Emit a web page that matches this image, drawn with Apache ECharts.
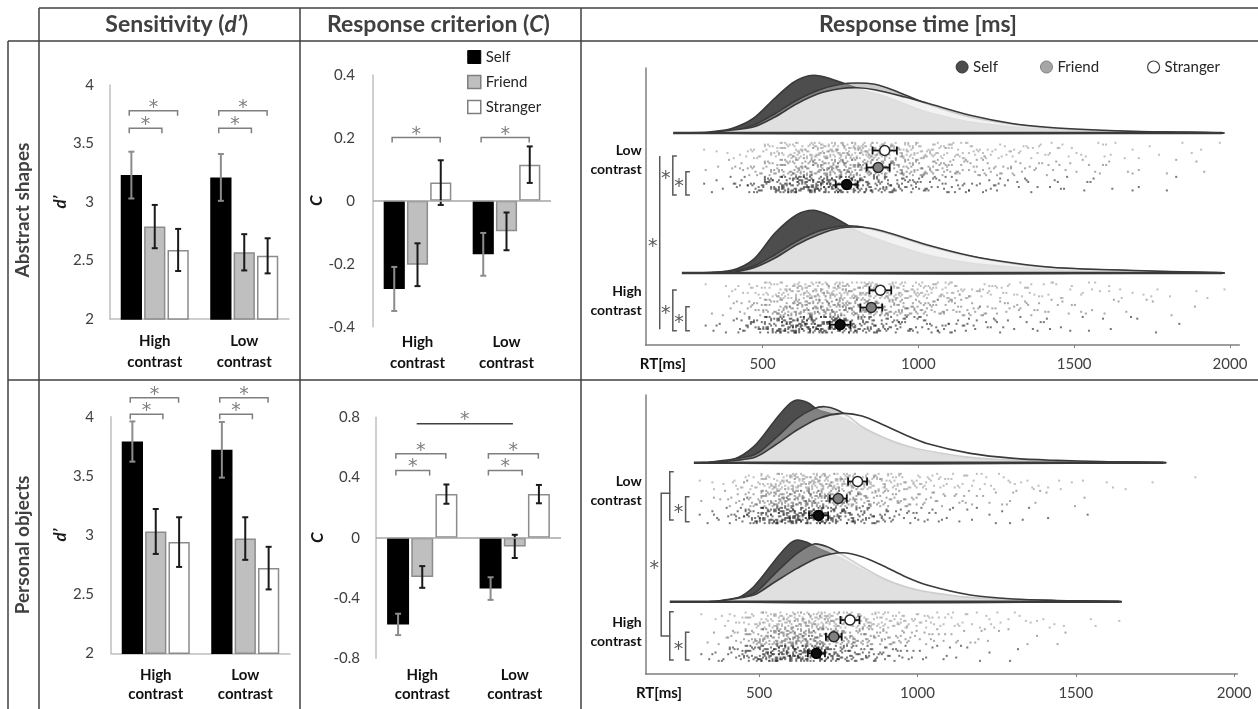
<!DOCTYPE html>
<html><head><meta charset="utf-8">
<script src="https://cdn.jsdelivr.net/npm/echarts@6/dist/echarts.min.js"></script>
<style>html,body{margin:0;padding:0;background:#fff}#c{width:1258px;height:709px}</style>
</head><body><div id="c"></div><script>
const FONT = 'Lato, "Open Sans", sans-serif';
const contrastCats = ['High\ncontrast', 'Low\ncontrast'];
const rtTicks = [500, 1000, 1500, 2000];
const rtRowLabels = ['Low\ncontrast', 'High\ncontrast'];

// Sensitivity d' (High, Low)
const dAbsSelf = [3.23, 3.21], dAbsSelfErr = [0.20, 0.20];
const dAbsFriend = [2.79, 2.57], dAbsFriendErr = [0.185, 0.155];
const dAbsStranger = [2.59, 2.54], dAbsStrangerErr = [0.18, 0.15];
const dObjSelf = [3.79, 3.72], dObjSelfErr = [0.17, 0.235];
const dObjFriend = [3.03, 2.97], dObjFriendErr = [0.19, 0.18];
const dObjStranger = [2.94, 2.72], dObjStrangerErr = [0.21, 0.18];
// Response criterion C (High, Low)
const cAbsSelf = [-0.28, -0.17], cAbsSelfErr = [0.07, 0.068];
const cAbsFriend = [-0.203, -0.097], cAbsFriendErr = [0.068, 0.06];
const cAbsStranger = [0.058, 0.115], cAbsStrangerErr = [0.071, 0.058];
const cObjSelf = [-0.575, -0.337], cObjSelfErr = [0.071, 0.075];
const cObjFriend = [-0.26, -0.057], cObjFriendErr = [0.072, 0.077];
const cObjStranger = [0.29, 0.29], cObjStrangerErr = [0.064, 0.061];
// significance brackets: [category, value, target(0 friend,1 stranger)]
const sigDAbs = [[0, 3.63, 0], [0, 3.78, 1], [1, 3.63, 0], [1, 3.78, 1]];
const sigCAbs = [[0, 0.201, 1], [1, 0.201, 1]];
const sigDObj = [[0, 4.02, 0], [0, 4.16, 1], [1, 4.02, 0], [1, 4.16, 1]];
const sigCObj = [[0, 0.447, 0], [0, 0.558, 1], [1, 0.447, 0], [1, 0.558, 1]];
const sigCObjContrast = [[0, 1, 0.757]];

// RT densities [rt, height]
const densAbsLowSelf = [[262,0],[331,0.1],[401,0.45],[470,1.45],[540,3.5],[596,5.0],[630,5.55],[665,5.77],[700,5.6],[735,5.25],[776,4.8],[818,4.3],[888,3.7],[957,2.9],[1027,2.1],[1097,1.55],[1166,1.1],[1305,0.6],[1445,0.3],[1584,0.15],[1723,0.07],[1973,0]];
const densAbsLowFriend = [[303,0],[401,0.2],[470,0.77],[540,1.93],[610,3.27],[679,4.27],[749,4.87],[804,5.0],[860,4.87],[916,4.33],[1027,2.93],[1166,1.6],[1305,0.87],[1445,0.43],[1653,0.17],[1862,0.07],[1973,0]];
const densAbsLowStranger = [[331,0],[470,0.6],[540,1.6],[610,2.93],[679,3.93],[749,4.43],[804,4.53],[860,4.33],[957,3.6],[1027,3.0],[1166,1.77],[1305,0.93],[1445,0.5],[1653,0.2],[1862,0.07],[1973,0]];
const densAbsHighSelf = [[303,0],[401,0.27],[470,1.33],[540,4.0],[610,5.83],[665,6.27],[721,5.67],[776,4.73],[818,4.0],[888,3.17],[1027,1.83],[1166,1.0],[1305,0.6],[1445,0.3],[1584,0.15],[1793,0.05],[1973,0]];
const densAbsHighFriend = [[331,0],[401,0.17],[470,0.67],[540,1.83],[610,3.17],[679,4.17],[749,4.67],[804,4.67],[888,4.07],[957,3.4],[1027,2.73],[1166,1.67],[1305,0.93],[1445,0.5],[1723,0.2],[1973,0]];
const densAbsHighStranger = [[408,0],[470,0.5],[540,1.5],[610,2.83],[679,3.83],[749,4.5],[818,4.57],[888,4.17],[1027,2.83],[1166,1.73],[1305,1.0],[1445,0.53],[1723,0.23],[1973,0]];
const densObjLowSelf = [[318,0],[414,0.27],[483,1.6],[551,4.27],[592,5.77],[620,6.27],[654,6.0],[688,5.27],[756,4.6],[825,3.4],[893,2.4],[962,1.6],[1030,1.0],[1167,0.45],[1304,0.2],[1441,0.1],[1646,0.04],[1776,0]];
const densObjLowFriend = [[346,0],[483,0.77],[551,2.43],[620,4.43],[674,5.43],[708,5.6],[743,5.33],[784,4.6],[825,3.6],[893,2.53],[962,1.73],[1030,1.2],[1167,0.53],[1304,0.25],[1441,0.12],[1776,0]];
const densObjLowStranger = [[346,0],[483,0.5],[551,1.77],[620,3.27],[688,4.43],[763,4.93],[825,4.67],[893,3.77],[962,2.77],[1030,1.93],[1167,0.93],[1304,0.43],[1441,0.23],[1578,0.12],[1776,0]];
const densObjHighSelf = [[346,0],[428,0.33],[483,1.5],[551,4.17],[592,5.67],[620,6.17],[654,5.9],[688,5.33],[756,4.4],[825,3.2],[893,2.2],[962,1.45],[1030,0.9],[1167,0.4],[1304,0.18],[1441,0.08],[1637,0]];
const densObjHighFriend = [[373,0],[483,0.83],[551,2.83],[620,4.83],[674,5.77],[715,5.5],[756,4.83],[825,3.5],[893,2.33],[962,1.5],[1030,1.0],[1167,0.43],[1304,0.2],[1441,0.1],[1637,0]];
const densObjHighStranger = [[373,0],[483,0.67],[551,2.0],[620,3.33],[688,4.43],[763,4.9],[825,4.5],[893,3.57],[962,2.5],[1030,1.67],[1167,0.67],[1304,0.27],[1441,0.12],[1637,0]];
const baseAbsLow = [213, 1975], baseAbsHigh = [241, 1975], baseObjLow = [294, 1776], baseObjHigh = [218, 1637];

// RT means (Self, Friend, Stranger)
const rtAbsLowMean = [770, 871, 892], rtAbsLowErr = [35, 37, 39];
const rtAbsHighMean = [749, 849, 878], rtAbsHighErr = [33, 35, 35];
const rtObjLowMean = [688, 750, 811], rtObjLowErr = [30, 27, 30];
const rtObjHighMean = [681, 736, 787], rtObjHighErr = [27, 25, 30];

// single-trial dot counts per 50 ms bin, bins starting at 250 ms
const dotBinStart = 250, dotBinWidth = 50;
const dotsAbsLowSelf     = [0,2,3,6,14,24,36,42,45,42,36,30,24,20,15,12,10,8,6,6,5,4,3,3,3,2,2,1,1,1,1,1,0,0,0];
const dotsAbsLowFriend   = [0,1,2,5,9,15,22,28,33,36,36,34,31,27,22,18,15,12,10,9,7,6,5,4,3,3,3,2,2,1,1,1,1,1,0];
const dotsAbsLowStranger = [0,1,2,3,8,13,21,27,31,34,36,36,33,28,24,20,16,13,10,9,7,6,6,5,4,3,3,3,2,2,1,1,1,1,1];
const dotsAbsHighSelf     = [0,2,3,8,16,28,40,45,45,40,33,27,21,16,13,10,9,7,6,5,4,3,3,3,2,2,1,1,1,1,1,1,0,0,0];
const dotsAbsHighFriend   = [0,1,2,5,10,18,25,31,34,36,34,31,28,24,20,16,13,12,9,7,6,6,5,4,3,3,2,2,1,1,1,1,1,0,0];
const dotsAbsHighStranger = [0,1,2,4,9,15,22,28,33,34,34,33,30,27,22,19,16,13,10,9,7,6,6,5,4,3,3,3,2,2,1,1,1,1,1];
const dotsObjLowSelf     = [0,2,5,10,22,37,48,50,45,37,28,21,15,10,7,6,4,3,3,2,2,1,1,1,0,1,0,0,0,0,0,0,0,0,0];
const dotsObjLowFriend   = [0,1,3,7,16,28,39,43,43,39,31,24,18,13,10,7,6,5,4,3,3,2,2,1,1,1,0,0,0,0,0,0,0,0,0];
const dotsObjLowStranger = [0,1,3,6,12,21,30,36,39,39,36,30,24,19,15,12,9,7,6,5,4,3,3,2,2,1,1,1,1,1,0,0,1,0,0];
const dotsObjHighSelf     = [0,2,5,12,24,39,48,48,42,34,25,18,13,9,6,4,3,3,2,1,1,1,0,0,0,0,0,0,0,0,0,0,0,0,0];
const dotsObjHighFriend   = [0,1,3,7,18,30,40,45,42,36,28,21,16,12,9,6,5,4,3,3,2,1,1,1,1,0,0,0,0,0,0,0,0,0,0];
const dotsObjHighStranger = [0,1,3,6,13,22,31,37,39,37,33,27,21,16,13,10,7,6,5,4,3,3,3,2,1,1,1,1,0,0,0,0,0,0,0];
// within-bin horizontal and vertical jitter digits
const jitX = '27049318562071594836207491538620471958360271849513629';
const jitY = '51837290461582703941625083719462058317924650381729460531472';

// RT brackets: [rt, yTop, yBottom, star, tickType]
const rtSigAbs = [[170,18.9,1.57,1,0],[212,18.9,15.0,1,1],[254,17.33,15.0,1,1],[212,5.5,1.43,1,1],[254,3.83,1.43,1,1]];
const rtSigObj = [[191,18.07,3.8,1,2],[218,20.23,15.4,0,1],[268,17.73,15.23,1,1],[218,6.23,1.4,0,1],[268,4.17,1.4,1,1]];

// ---------------- layout / styles ----------------
const BCG = 0.24, BG = 0.10;
const condStyle = {
  Self: {bar: '#000000', barBorder: '#000000', err: '#8c8c8c', dot: 'rgba(40,40,40,0.8)', dens: '#4d4d4d', mean: '#0d0d0d', meanStroke: '#000'},
  Friend: {bar: '#bfbfbf', barBorder: '#8c8c8c', err: '#1a1a1a', dot: 'rgba(100,100,100,0.7)', dens: 'rgba(166,166,166,0.6)', mean: '#808080', meanStroke: '#262626'},
  Stranger: {bar: '#ffffff', barBorder: '#8c8c8c', err: '#1a1a1a', dot: 'rgba(140,140,140,0.7)', dens: 'rgba(255,255,255,0.75)', mean: '#ffffff', meanStroke: '#262626'}
};
const conds = ['Self', 'Friend', 'Stranger'];
const starStyle = {text: '*', fontSize: 19, fontFamily: 'DejaVu Sans, ' + FONT, fill: '#7f7f7f', align: 'center', verticalAlign: 'middle'};

function errRender(k, color) {
  return function (params, api) {
    const cat = api.value(0);
    const lo = api.coord([cat, api.value(1)]), hi = api.coord([cat, api.value(2)]);
    const band = api.size([1, 0])[0];
    const w = (1 - BCG) / (3 + 2 * BG) * band;
    const x = lo[0] + k * w * (1 + BG);
    const st = {stroke: color, lineWidth: 2};
    return {type: 'group', children: [
      {type: 'line', shape: {x1: x, y1: lo[1], x2: x, y2: hi[1]}, style: st},
      {type: 'line', shape: {x1: x - 3, y1: lo[1], x2: x + 3, y2: lo[1]}, style: st},
      {type: 'line', shape: {x1: x - 3, y1: hi[1], x2: x + 3, y2: hi[1]}, style: st}
    ]};
  };
}
function sigRender(params, api) {
  const cat = api.value(0), y = api.value(1), t = api.value(2);
  const c = api.coord([cat, y]);
  const band = api.size([1, 0])[0];
  const x0 = c[0] - 0.285 * band, x1 = c[0] + (t === 1 ? 0.255 : 0.08) * band;
  return {type: 'group', children: [
    {type: 'polyline', shape: {points: [[x0, c[1] + 5], [x0, c[1]], [x1, c[1]], [x1, c[1] + 5]]}, style: {stroke: '#7f7f7f', lineWidth: 1.5, fill: null}},
    {type: 'text', x: (x0 + x1) / 2, y: c[1] - 3, style: starStyle}
  ]};
}
function contrastLineRender(params, api) {
  const a = api.coord([api.value(0), api.value(2)]), b = api.coord([api.value(1), api.value(2)]);
  const band = api.size([1, 0])[0];
  const x0 = a[0] - 0.06 * band, x1 = b[0] - 0.02 * band;
  return {type: 'group', children: [
    {type: 'line', shape: {x1: x0, y1: a[1], x2: x1, y2: a[1]}, style: {stroke: '#404040', lineWidth: 1.5}},
    {type: 'text', x: (x0 + x1) / 2, y: a[1] - 4, style: starStyle}
  ]};
}
function densRender(points, base, fill) {
  return function (params, api) {
    const pts = points.map(p => api.coord([p[0], base + p[1]]));
    return {type: 'polygon', shape: {points: pts, smooth: 0.3}, style: {fill: fill, stroke: '#3a3a3a', lineWidth: 1.6}};
  };
}
function baseRender(range, base) {
  return function (params, api) {
    const a = api.coord([range[0], base]), b = api.coord([range[1], base]);
    return {type: 'line', shape: {x1: a[0], y1: a[1], x2: b[0], y2: b[1]}, style: {stroke: '#3a3a3a', lineWidth: 2.5}};
  };
}
function meanRender(params, api) {
  const rt = api.value(0), y = api.value(1), e = api.value(2), ci = api.value(3);
  const s = condStyle[conds[ci]];
  const c = api.coord([rt, y]), l = api.coord([rt - e, y]), r = api.coord([rt + e, y]);
  const st = {stroke: '#111', lineWidth: 1.8};
  return {type: 'group', children: [
    {type: 'line', shape: {x1: l[0], y1: c[1], x2: r[0], y2: c[1]}, style: st},
    {type: 'line', shape: {x1: l[0], y1: c[1] - 4, x2: l[0], y2: c[1] + 4}, style: st},
    {type: 'line', shape: {x1: r[0], y1: c[1] - 4, x2: r[0], y2: c[1] + 4}, style: st},
    {type: 'circle', shape: {cx: c[0], cy: c[1], r: 5}, style: {fill: s.mean, stroke: s.meanStroke, lineWidth: 1.5}}
  ]};
}
function rtSigRender(params, api) {
  const x = api.value(0), y1 = api.value(1), y2 = api.value(2), star = api.value(3), tk = api.value(4);
  const a = api.coord([x, y1]), b = api.coord([x, y2]);
  const L = tk === 2 ? 9 : (tk === 1 ? 4 : 0);
  const ch = [{type: 'polyline', shape: {points: [[a[0] + L, a[1]], [a[0], a[1]], [b[0], b[1]], [b[0] + L, b[1]]]}, style: {stroke: '#595959', lineWidth: 1.5, fill: null}}];
  if (star) ch.push({type: 'text', x: a[0] - 7, y: (a[1] + b[1]) / 2 + 4, style: Object.assign({}, starStyle, {fill: '#595959'})});
  return {type: 'group', children: ch};
}

const series = [];
function barPanel(g, vals, errs, sigs, withZero) {
  conds.forEach((c, k) => {
    const s = condStyle[c];
    const ser = {type: 'bar', name: c, xAxisIndex: g, yAxisIndex: g, data: vals[k], barGap: (BG * 100) + '%', barCategoryGap: (BCG * 100) + '%',
      itemStyle: {color: s.bar, borderColor: s.barBorder, borderWidth: 1.5}, silent: true, z: 2};
    if (withZero && k === 0) ser.markLine = {silent: true, symbol: ['none', 'none'], label: {show: false}, lineStyle: {color: '#a6a6a6', width: 1.5, type: 'solid'}, data: [{yAxis: 0}]};
    series.push(ser);
  });
  conds.forEach((c, k) => {
    series.push({type: 'custom', name: 'err' + g + c, xAxisIndex: g, yAxisIndex: g, z: 4, silent: true,
      data: vals[k].map((v, i) => [i, v - errs[k][i], v + errs[k][i]]), renderItem: errRender(k - 1, condStyle[c].err)});
  });
  series.push({type: 'custom', name: 'sig' + g, xAxisIndex: g, yAxisIndex: g, z: 4, silent: true, data: sigs, renderItem: sigRender});
}
barPanel(0, [dAbsSelf, dAbsFriend, dAbsStranger], [dAbsSelfErr, dAbsFriendErr, dAbsStrangerErr], sigDAbs, false);
barPanel(1, [cAbsSelf, cAbsFriend, cAbsStranger], [cAbsSelfErr, cAbsFriendErr, cAbsStrangerErr], sigCAbs, true);
barPanel(3, [dObjSelf, dObjFriend, dObjStranger], [dObjSelfErr, dObjFriendErr, dObjStrangerErr], sigDObj, false);
barPanel(4, [cObjSelf, cObjFriend, cObjStranger], [cObjSelfErr, cObjFriendErr, cObjStrangerErr], sigCObj, true);
series.push({type: 'custom', name: 'sigContrast', xAxisIndex: 4, yAxisIndex: 4, z: 4, silent: true, data: sigCObjContrast, renderItem: contrastLineRender});

// RT panels
function rtPanel(g, dens, bases, baseRanges, dots, subBands, means, errs, sigs) {
  dens.forEach((bandDens, b) => {
    bandDens.forEach((pts, k) => {
      series.push({type: 'custom', name: 'dens' + g + b + k, xAxisIndex: g, yAxisIndex: g, z: 2 + k * 0.1, silent: true,
        data: [[pts[0][0], bases[b]]], renderItem: densRender(pts, bases[b], condStyle[conds[k]].dens)});
    });
    series.push({type: 'custom', name: 'base' + g + b, xAxisIndex: g, yAxisIndex: g, z: 3, silent: true,
      data: [[baseRanges[b][0], bases[b]]], renderItem: baseRender(baseRanges[b], bases[b])});
  });
  conds.slice().reverse().forEach((c) => {
    const k = conds.indexOf(c);
    const data = [];
    dots.forEach((bandDots, b) => {
      const [lo, hi] = subBands[b][k];
      let n = b * 17 + k * 5;
      bandDots[k].forEach((count, bin) => {
        for (let i = 0; i < count; i++, n++) {
          const dx = +jitX[n % jitX.length], dy = +jitY[(n * 7) % jitY.length];
          data.push([dotBinStart + bin * dotBinWidth + (dx + 0.5) / 10 * dotBinWidth, lo + (dy + 0.5) / 10 * (hi - lo)]);
        }
      });
    });
    series.push({type: 'scatter', name: 'dots' + g + c, xAxisIndex: g, yAxisIndex: g, z: 3, silent: true, symbol: 'rect', symbolSize: 2,
      itemStyle: {color: condStyle[c].dot}, data: data});
  });
  const md = [];
  means.forEach((bm, b) => bm.forEach((m, k) => {
    const [lo, hi] = subBands[b][k];
    md.push([m, (lo + hi) / 2, errs[b][k], k]);
  }));
  series.push({type: 'custom', name: 'means' + g, xAxisIndex: g, yAxisIndex: g, z: 5, silent: true, data: md, renderItem: meanRender});
  series.push({type: 'custom', name: 'rtsig' + g, xAxisIndex: g, yAxisIndex: g, z: 5, silent: true, data: sigs, renderItem: rtSigRender});
}
rtPanel(2,
  [[densAbsLowSelf, densAbsLowFriend, densAbsLowStranger], [densAbsHighSelf, densAbsHighFriend, densAbsHighStranger]],
  [21.2, 7.2], [baseAbsLow, baseAbsHigh],
  [[dotsAbsLowSelf, dotsAbsLowFriend, dotsAbsLowStranger], [dotsAbsHighSelf, dotsAbsHighFriend, dotsAbsHighStranger]],
  [[[15.2, 16.9], [16.9, 18.6], [18.6, 20.3]], [[1.17, 2.89], [2.89, 4.61], [4.61, 6.33]]],
  [rtAbsLowMean, rtAbsHighMean], [rtAbsLowErr, rtAbsHighErr], rtSigAbs);
rtPanel(5,
  [[densObjLowSelf, densObjLowFriend, densObjLowStranger], [densObjHighSelf, densObjHighFriend, densObjHighStranger]],
  [21.13, 7.23], [baseObjLow, baseObjHigh],
  [[dotsObjLowSelf, dotsObjLowFriend, dotsObjLowStranger], [dotsObjHighSelf, dotsObjHighFriend, dotsObjHighStranger]],
  [[[15.0, 16.7], [16.7, 18.4], [18.4, 20.1]], [[1.23, 2.9], [2.9, 4.56], [4.56, 6.23]]],
  [rtObjLowMean, rtObjHighMean], [rtObjLowErr, rtObjHighErr], rtSigObj);

// axes
function catAxis(g, margin, lh, line) {
  return {gridIndex: g, type: 'category', data: contrastCats,
    axisLine: {show: line, lineStyle: {color: '#bfbfbf', width: 1.5}}, axisTick: {show: false},
    axisLabel: {margin: margin, fontSize: 15, fontWeight: 'bold', color: '#111', lineHeight: lh, fontFamily: FONT}};
}
function valAxis(g, min, max, interval, name, gap, margin) {
  return {gridIndex: g, type: 'value', min: min, max: max, interval: interval,
    axisLine: {show: true, lineStyle: {color: '#bfbfbf', width: 1.5}}, axisTick: {show: false}, splitLine: {show: false},
    axisLabel: {margin: margin, fontSize: 15, color: '#404040', fontFamily: FONT},
    name: name, nameLocation: 'middle', nameGap: gap,
    nameTextStyle: {fontStyle: 'italic', fontWeight: 'bold', fontSize: 17, color: '#1a1a1a', fontFamily: FONT}};
}
function rtXAxis(g, min, max, nameVal) {
  return {gridIndex: g, type: 'value', min: min, max: max,
    axisLine: {show: true, lineStyle: {color: '#7f7f7f', width: 1.5}},
    axisTick: {show: true, customValues: rtTicks, length: 3, lineStyle: {color: '#7f7f7f'}},
    splitLine: {show: false},
    axisLabel: {customValues: [nameVal].concat(rtTicks), margin: 12, fontSize: 15, color: '#404040', fontFamily: FONT,
      formatter: v => (v === nameVal ? '{b|RT[ms]}' : String(v)),
      rich: {b: {fontWeight: 'bold', fontSize: 15, color: '#111', fontFamily: FONT}}}};
}
function rtYAxis(g, max, labelVals) {
  return {gridIndex: g, type: 'value', min: 0, max: max,
    axisLine: {show: true, lineStyle: {color: '#7f7f7f', width: 1.5}}, axisTick: {show: false}, splitLine: {show: false},
    axisLabel: {customValues: labelVals, margin: 4, fontSize: 14, fontWeight: 'bold', color: '#111', lineHeight: 19, fontFamily: FONT,
      formatter: v => rtRowLabels[labelVals.indexOf(v)]}};
}

const legendText = {fontSize: 15, color: '#262626', fontFamily: FONT, lineHeight: 16};
const headRich = {a: {fontSize: 23, fontWeight: 'bold', fontFamily: FONT, fill: '#404040'}, b: {fontSize: 23, fontWeight: 'bold', fontStyle: 'italic', fontFamily: FONT, fill: '#404040'}};
const option = {
  animation: false,
  backgroundColor: '#fff',
  grid: [
    {left: 110, top: 85, width: 179, height: 234},
    {left: 373, top: 75, width: 178, height: 251.7},
    {left: 645.7, top: 68, width: 593.6, height: 277},
    {left: 111, top: 416.7, width: 179, height: 236.6},
    {left: 376, top: 417.3, width: 185, height: 241},
    {left: 645.7, top: 395, width: 591.6, height: 279}
  ],
  xAxis: [catAxis(0, 12, 21, true), catAxis(1, 5, 21, false), rtXAxis(2, 125, 2030, 180),
          catAxis(3, 12, 19, true), catAxis(4, 7, 19, false), rtXAxis(5, 142, 2010, 184)],
  yAxis: [valAxis(0, 2, 4, 0.5, 'd’', 38, 16), valAxis(1, -0.4, 0.4, 0.2, 'C', 48, 18), rtYAxis(2, 27.7, [18.5, 4.4]),
          valAxis(3, 2, 4, 0.5, 'd’', 39, 17), valAxis(4, -0.8, 0.8, 0.4, 'C', 50, 16), rtYAxis(5, 27.9, [18.3, 4.2])],
  legend: [
    {orient: 'vertical', left: 467, top: 49, padding: 0, itemWidth: 13, itemHeight: 13, itemGap: 9, selectedMode: false, textStyle: legendText,
      data: [{name: 'Self', icon: 'rect', itemStyle: {color: '#000', borderColor: '#000', borderWidth: 1}},
             {name: 'Friend', icon: 'rect', itemStyle: {color: '#bfbfbf', borderColor: '#7f7f7f', borderWidth: 1.5}},
             {name: 'Stranger', icon: 'rect', itemStyle: {color: '#fff', borderColor: '#7f7f7f', borderWidth: 1.5}}]},
    {left: 955.6, top: 59, padding: 0, itemWidth: 12, itemHeight: 12, selectedMode: false, textStyle: legendText,
      data: [{name: 'Self', icon: 'circle', itemStyle: {color: '#4d4d4d', borderColor: '#333', borderWidth: 1}}]},
    {left: 1040, top: 59, padding: 0, itemWidth: 12, itemHeight: 12, selectedMode: false, textStyle: legendText,
      data: [{name: 'Friend', icon: 'circle', itemStyle: {color: '#a6a6a6', borderColor: '#7f7f7f', borderWidth: 1}}]},
    {left: 1147, top: 59, padding: 0, itemWidth: 12, itemHeight: 12, selectedMode: false, textStyle: legendText,
      data: [{name: 'Stranger', icon: 'circle', itemStyle: {color: '#fff', borderColor: '#404040', borderWidth: 1.2}}]}
  ],
  graphic: [
    {type: 'line', silent: true, shape: {x1: 39, y1: 8, x2: 1258, y2: 8}, style: {stroke: '#404040', lineWidth: 1.5}},
    {type: 'line', silent: true, shape: {x1: 8, y1: 41, x2: 1258, y2: 41}, style: {stroke: '#404040', lineWidth: 1.5}},
    {type: 'line', silent: true, shape: {x1: 8, y1: 380, x2: 1258, y2: 380}, style: {stroke: '#404040', lineWidth: 1.5}},
    {type: 'line', silent: true, shape: {x1: 8, y1: 41, x2: 8, y2: 709}, style: {stroke: '#404040', lineWidth: 1.5}},
    {type: 'line', silent: true, shape: {x1: 39, y1: 8, x2: 39, y2: 709}, style: {stroke: '#404040', lineWidth: 1.5}},
    {type: 'line', silent: true, shape: {x1: 300, y1: 8, x2: 300, y2: 709}, style: {stroke: '#404040', lineWidth: 1.5}},
    {type: 'line', silent: true, shape: {x1: 581, y1: 8, x2: 581, y2: 709}, style: {stroke: '#404040', lineWidth: 1.5}},
    {type: 'text', silent: true, x: 176.7, y: 25, style: {text: '{a|Sensitivity (}{b|d’}{a|)}', align: 'center', verticalAlign: 'middle', rich: headRich}},
    {type: 'text', silent: true, x: 438.4, y: 25, style: {text: '{a|Response criterion (}{b|C}{a|)}', align: 'center', verticalAlign: 'middle', rich: headRich}},
    {type: 'text', silent: true, x: 918, y: 25, style: {text: 'Response time [ms]', align: 'center', verticalAlign: 'middle', fontSize: 23, fontWeight: 'bold', fontFamily: FONT, fill: '#404040'}},
    {type: 'text', silent: true, x: 23, y: 210, rotation: Math.PI / 2, style: {text: 'Abstract shapes', align: 'center', verticalAlign: 'middle', fontSize: 19, fontWeight: 'bold', fontFamily: FONT, fill: '#404040'}},
    {type: 'text', silent: true, x: 23, y: 545, rotation: Math.PI / 2, style: {text: 'Personal objects', align: 'center', verticalAlign: 'middle', fontSize: 19, fontWeight: 'bold', fontFamily: FONT, fill: '#404040'}}
  ],
  series: series
};
const chart = echarts.init(document.getElementById('c'));
chart.setOption(option);
</script></body></html>
